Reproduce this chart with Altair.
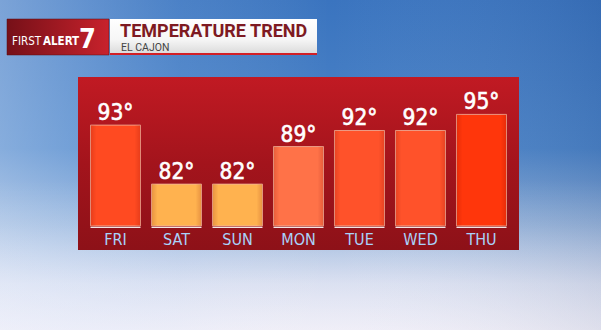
import altair as alt
import pandas as pd

days = ["FRI", "SAT", "SUN", "MON", "TUE", "WED", "THU"]
temps = [93, 82, 82, 89, 92, 92, 95]
labels = [f"{t}°" for t in temps]

title_text = "TEMPERATURE TREND"
subtitle_text = "EL CAJON"

df = pd.DataFrame({"day": days, "temp": temps, "label": labels, "base": [74.2] * len(days),
                   "line_lo": [73.8] * len(days), "line_hi": [74.05] * len(days)})
one = pd.DataFrame({"k": [0]})

W, H = 601, 330
FONT = "DejaVu Sans Condensed"

xs = alt.X("day:N", sort=days, axis=None,
           scale=alt.Scale(range=[85, 512], paddingInner=0.18, paddingOuter=0.09))
ys = alt.Scale(domain=[74, 95], range=[227, 114.4], zero=False, nice=False)


def grad(stops, x1=0, y1=0, x2=0, y2=1):
    return {"gradient": "linear", "x1": x1, "y1": y1, "x2": x2, "y2": y2,
            "stops": [{"offset": o, "color": c} for o, c in stops]}


def box(x1, x2, y1, y2, fill, **kw):
    return alt.Chart(one).mark_rect(fill=fill, **kw).encode(
        x=alt.value(x1), x2=alt.value(x2), y=alt.value(y1), y2=alt.value(y2))


def txt(s, x, y, **kw):
    return alt.Chart(one).mark_text(text=s, **kw).encode(x=alt.value(x), y=alt.value(y))


sky = box(0, W, 0, H, grad([(0, "#3a74bf"), (0.45, "#4c84c8"), (0.68, "#8eaed8"),
                            (0.86, "#d2daee"), (1, "#ececf6")]))
sky_left = box(0, W, 0, H, grad([(0, "rgba(230,240,255,0.38)"), (0.3, "rgba(200,225,255,0.12)"),
                                 (0.55, "rgba(255,255,255,0)"), (1, "rgba(20,45,100,0.12)")],
                                x1=0, y1=0, x2=1, y2=0))
sky_low = box(0, W, 180, H, grad([(0, "rgba(255,255,255,0)"), (1, "rgba(245,242,250,0.35)")]))

hdr_red = box(7, 109, 19, 55, grad([(0, "#761018"), (1, "#c8222c")], x1=0, y1=0, x2=1, y2=0),
              stroke="#5a0c10", strokeWidth=0.5)
hdr_white = box(110, 317, 19, 53, grad([(0, "#ffffff"), (0.6, "#f6f6f6"), (1, "#dcdcdc")]))
hdr_line = box(110, 317, 53, 55, "#d21f26")

first = txt("FIRST", 12, 45, font=FONT, fontSize=11.5, color="white", align="left",
            baseline="alphabetic")
alert = txt("ALERT", 43, 45, font=FONT, fontSize=11.5, fontWeight="bold", color="white",
            align="left", baseline="alphabetic")
seven = txt("7", 79, 48, font=FONT, fontSize=27, fontWeight="bold", color="white",
            align="left", baseline="alphabetic")

title = txt(title_text, 120, 37, font="Roboto", fontSize=18, fontWeight="bold", color="#7e1a22",
            align="left", baseline="alphabetic")
sub = txt(subtitle_text, 121, 51, font="Roboto", fontSize=10.5, color="#444444",
          align="left", baseline="alphabetic")

panel = box(78, 519, 77, 250, grad([(0, "#c11a23"), (0.5, "#a3141c"), (1, "#8d1118")]))

bars = alt.Chart(df).mark_bar(stroke="#f3b49e", strokeWidth=1, strokeOpacity=0.8).encode(
    x=xs,
    y=alt.Y("temp:Q", scale=ys, axis=None),
    y2="base:Q",
    color=alt.Color("temp:Q", legend=None,
                    scale=alt.Scale(domain=[82, 89, 92, 95],
                                    range=["#ffb24f", "#ff7248", "#ff522a", "#ff360b"])),
)
shade = alt.Chart(df).mark_bar(
    fill=grad([(0, "rgba(120,0,0,0.18)"), (0.12, "rgba(120,0,0,0)"),
               (0.88, "rgba(120,0,0,0)"), (1, "rgba(120,0,0,0.18)")], x1=0, y1=0, x2=1, y2=0)
).encode(x=xs, y=alt.Y("temp:Q", scale=ys), y2="base:Q")

baseline = alt.Chart(df).mark_bar(fill="#f4e4e4").encode(
    x=xs, y=alt.Y("line_hi:Q", scale=ys), y2="line_lo:Q")

vals = alt.Chart(df).mark_text(font=FONT, fontSize=22.5, color="white", baseline="alphabetic",
                               dy=-5, align="center", stroke="white", strokeWidth=0.6).encode(
    x=xs, y=alt.Y("temp:Q", scale=ys), text="label:N")

daylab = alt.Chart(df).mark_text(font=FONT, fontSize=16, color="#a9d2fa", baseline="alphabetic",
                                 align="center").encode(
    x=xs, y=alt.value(245), text="day:N")

chart = alt.layer(sky, sky_left, sky_low, hdr_red, hdr_white, hdr_line, first, alert, seven,
                  title, sub, panel, bars, shade, baseline, vals, daylab).properties(
    width=W, height=H, padding=0, autosize=alt.AutoSizeParams(type="none")
).configure_view(stroke=None)

chart.save("out.html", embed_options={"renderer": "svg", "actions": False})
